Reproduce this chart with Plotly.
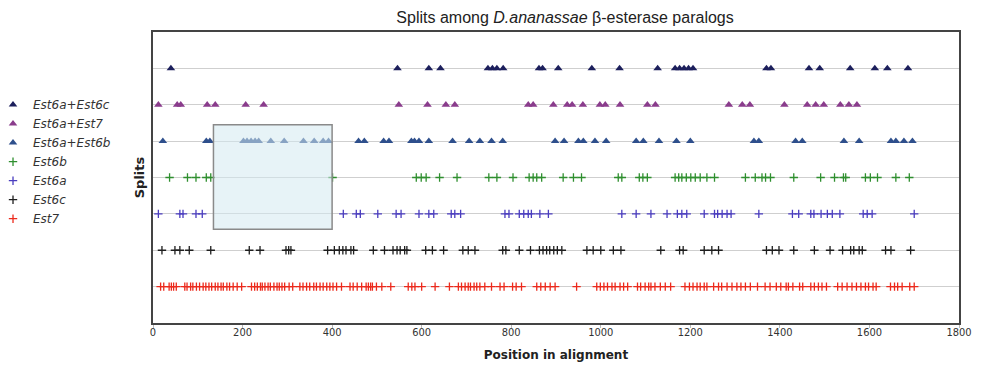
import plotly.graph_objects as go

# Series: split positions (position in alignment) per category row
series_names = ["Est6a+Est6c", "Est6a+Est7", "Est6a+Est6b", "Est6b", "Est6a", "Est6c", "Est7"]
row_levels = [7, 6, 5, 4, 3, 2, 1]

est6a_est6c = [40, 546, 616, 642, 748, 758, 768, 782, 862, 870, 905, 980, 1042, 1127, 1166, 1176,
               1186, 1196, 1206, 1370, 1380, 1465, 1489, 1557, 1612, 1640, 1686]
est6a_est7 = [12, 54, 62, 121, 139, 207, 247, 549, 613, 654, 674, 838, 849, 894, 925, 936, 960, 998,
              1010, 1043, 1104, 1122, 1286, 1316, 1333, 1410, 1461, 1480, 1498, 1535, 1554, 1572]
est6a_est6b = [22, 119, 127, 202, 210, 219, 228, 236, 263, 293, 336, 360, 380, 392, 459, 472, 515, 527,
               577, 584, 594, 616, 669, 706, 730, 756, 781, 898, 918, 950, 961, 987, 1012, 1079, 1095,
               1130, 1169, 1200, 1342, 1353, 1435, 1450, 1543, 1577, 1648, 1659, 1677, 1696]
est6b = [37, 77, 96, 119, 129, 401, 588, 599, 610, 640, 679, 750, 768, 804, 840, 849, 857, 868, 916,
         939, 957, 1039, 1047, 1086, 1094, 1104, 1166, 1174, 1181, 1191, 1201, 1211, 1222, 1237, 1254,
         1323, 1345, 1360, 1368, 1379, 1431, 1491, 1522, 1542, 1547, 1591, 1602, 1618, 1659, 1689]
est6a = [12, 60, 67, 96, 110, 425, 454, 463, 502, 543, 554, 594, 616, 627, 666, 674, 687, 786, 795,
         818, 828, 838, 845, 864, 883, 1047, 1079, 1112, 1148, 1171, 1181, 1192, 1231, 1254, 1261,
         1271, 1282, 1291, 1353, 1428, 1442, 1469, 1476, 1492, 1506, 1517, 1534, 1586, 1595, 1606, 1700]
est6c = [20, 49, 60, 81, 129, 215, 239, 297, 303, 308, 390, 405, 416, 424, 431, 442, 448, 492, 517,
         536, 545, 552, 562, 567, 609, 624, 649, 692, 704, 719, 781, 788, 818, 843, 863, 871, 879, 886,
         895, 903, 913, 969, 983, 1000, 1028, 1045, 1134, 1176, 1184, 1231, 1248, 1263, 1370, 1383,
         1398, 1431, 1477, 1512, 1540, 1558, 1565, 1577, 1584, 1636, 1648, 1692]
est7 = [17, 24, 36, 41, 46, 52, 71, 76, 84, 89, 97, 104, 112, 118, 125, 131, 139, 145, 152, 157, 165,
        171, 179, 188, 198, 220, 227, 233, 240, 244, 250, 257, 262, 270, 277, 282, 288, 294, 304, 312,
        328, 335, 343, 350, 359, 365, 373, 380, 388, 395, 402, 410, 421, 440, 447, 456, 466, 476, 481,
        486, 490, 499, 511, 531, 570, 578, 585, 600, 630, 662, 682, 689, 697, 704, 709, 717, 723, 730,
        741, 756, 775, 784, 803, 811, 823, 857, 866, 876, 887, 898, 946, 991, 999, 1007, 1015, 1025,
        1032, 1043, 1051, 1060, 1082, 1089, 1099, 1107, 1112, 1121, 1133, 1144, 1156, 1188, 1198, 1206,
        1215, 1222, 1231, 1237, 1252, 1263, 1270, 1282, 1293, 1304, 1313, 1323, 1334, 1350, 1367, 1378,
        1392, 1402, 1414, 1419, 1429, 1444, 1451, 1469, 1477, 1486, 1494, 1504, 1529, 1539, 1550, 1561,
        1571, 1581, 1591, 1598, 1608, 1615, 1647, 1656, 1663, 1673, 1690, 1700]

all_series = [est6a_est6c, est6a_est7, est6a_est6b, est6b, est6a, est6c, est7]
colors = ["#1c1f5c", "#8a3c8c", "#2e4f8c", "#2f8f2f", "#4a3dbf", "#1e1e1e", "#ec2a1c"]
symbols = ["triangle-up", "triangle-up", "triangle-up", "cross-thin", "cross-thin", "cross-thin", "cross-thin"]

# highlighted region
box_x = [135, 400]
box_y = [2.58, 5.45]

fig = go.Figure()
for name, lvl, xs, col, sym in zip(series_names, row_levels, all_series, colors, symbols):
    if sym.startswith("triangle"):
        marker = dict(symbol=sym, size=7.5, color=col, line=dict(width=0))
    else:
        marker = dict(symbol=sym, size=6, color=col, line=dict(width=1.3, color=col))
    fig.add_trace(go.Scatter(
        x=xs, y=[lvl] * len(xs), mode="markers", name="<i>" + name + "</i>",
        marker=marker, hoverinfo="x+name"))

fig.add_shape(type="rect", xref="x", yref="y", x0=box_x[0], x1=box_x[1], y0=box_y[0], y1=box_y[1],
              fillcolor="rgba(212,234,240,0.55)", line=dict(color="#8a8a8a", width=1.5), layer="above")

fig.update_layout(
    width=979, height=368,
    margin=dict(l=145, r=28, t=24, b=53, autoexpand=False),
    paper_bgcolor="white", plot_bgcolor="white",
    title=dict(text="Splits among <i>D.ananassae</i> β-esterase paralogs",
               x=0.569, xanchor="center", y=0.975, yanchor="middle",
               font=dict(family="Liberation Sans, Arial, sans-serif", size=16, color="#222")),
    showlegend=True,
    legend=dict(x=-0.1985, xanchor="left", y=0.80, yanchor="top",
                font=dict(family="DejaVu Sans, sans-serif", size=12, color="#333"),
                bgcolor="rgba(0,0,0,0)", tracegroupgap=0, itemwidth=30),
    xaxis=dict(range=[0, 1800], dtick=200, showgrid=False, zeroline=False,
               showline=True, mirror=True, linecolor="#444", linewidth=1.5,
               ticks="outside", ticklen=3, tickcolor="#bbbbbb", ticklabelstandoff=-5,
               tickfont=dict(family="DejaVu Sans Condensed, DejaVu Sans, sans-serif", size=11, color="#333"),
               title=dict(text="<b>Position in alignment</b>", standoff=13,
                          font=dict(family="DejaVu Sans, sans-serif", size=12, color="#222"))),
    yaxis=dict(range=[0, 8], tickvals=[1, 2, 3, 4, 5, 6, 7], showticklabels=False,
               showgrid=True, gridcolor="#cfcfcf", gridwidth=1, zeroline=False,
               showline=True, mirror=True, linecolor="#444", linewidth=1.5, ticks="",
               title=dict(text="<b>Splits</b>", standoff=4,
                          font=dict(family="DejaVu Sans, sans-serif", size=13, color="#222"))),
)

fig.write_html("out.html")
